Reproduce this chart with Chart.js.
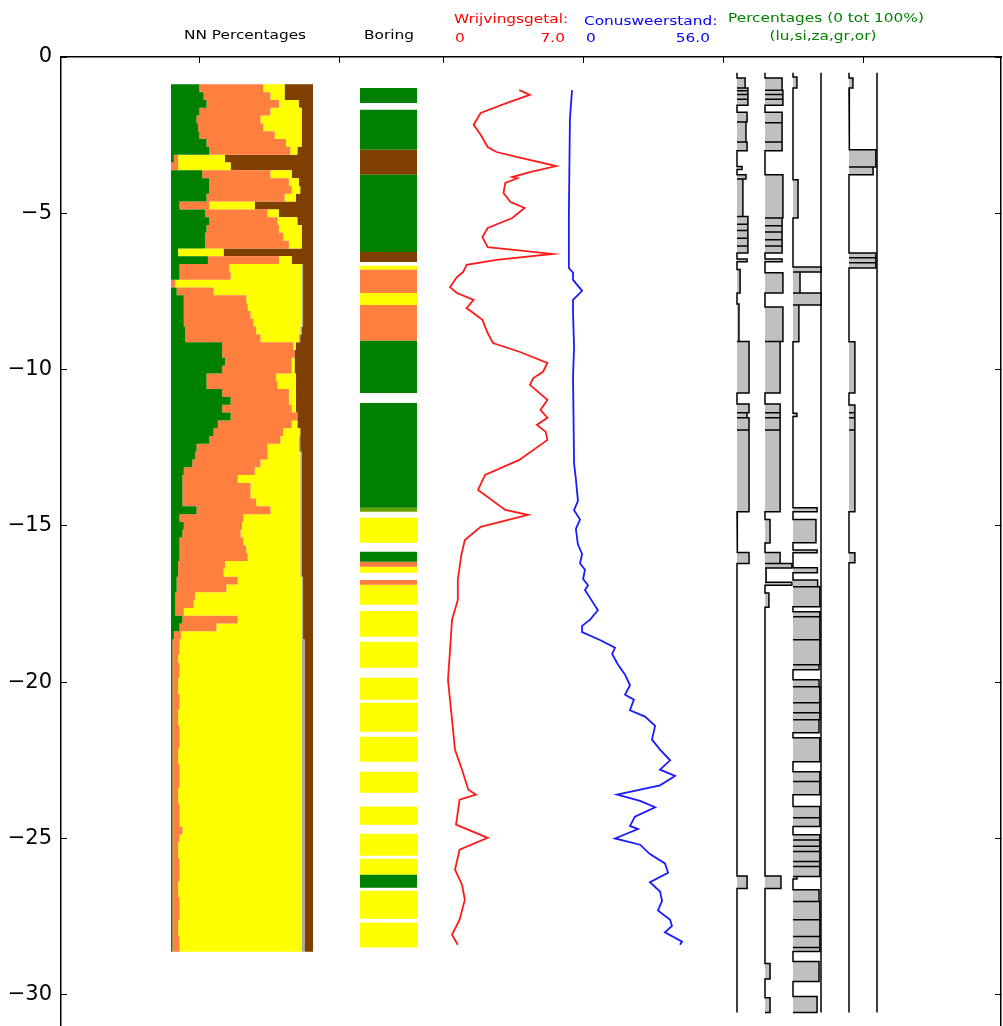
<!DOCTYPE html>
<html>
<head>
<meta charset="utf-8">
<title>Sondering en boring</title>
<script src="https://cdn.jsdelivr.net/npm/chart.js@4/dist/chart.umd.min.js"></script>
<style>
  html, body { margin: 0; padding: 0; background: #fff; }
  #wrap { width: 1003px; height: 1026px; position: relative; }
</style>
</head>
<body>
<div id="wrap"><canvas id="profile"></canvas></div>
<script>
// ---- depth grid of the neural-net classification (m, negative down)
const nnDepths = [
  -1, -1.25, -1.5, -1.75, -2, -2.25, -2.5, -2.75, -3, -3.25, -3.5, -3.75, -4, -4.25, -4.5, -4.75,
  -5, -5.25, -5.5, -5.75, -6, -6.25, -6.5, -6.75, -7, -7.25, -7.5, -7.75, -8, -8.25, -8.5, -8.75,
  -9, -9.25, -9.5, -9.75, -10, -10.25, -10.5, -10.75, -11, -11.25, -11.5, -11.75, -12, -12.25, -12.5, -12.75,
  -13, -13.25, -13.5, -13.75, -14, -14.25, -14.5, -14.75, -15, -15.25, -15.5, -15.75, -16, -16.25, -16.5, -16.75,
  -17, -17.25, -17.5, -17.75, -18, -18.25, -18.5, -18.75, -19, -19.25, -19.5, -19.75, -20, -20.25, -20.5, -20.75,
  -21, -21.25, -21.5, -21.75, -22, -22.25, -22.5, -22.75, -23, -23.25, -23.5, -23.75, -24, -24.25, -24.5, -24.75,
  -25, -25.25, -25.5, -25.75, -26, -26.25, -26.5, -26.75, -27, -27.25, -27.5, -27.75, -28, -28.25, -28.5
];
const NN_STEP = 0.25;
// NN percentages per class (lutum, silt, zand, grind, organisch)
const nnLu = [
  20, 23, 25, 20, 18, 19, 20, 25, 27, 2, 0, 22, 27, 27, 25, 6,
  24, 27, 25, 24, 24, 5, 26, 6, 6, 0, 4, 9, 9, 9, 9, 10,
  10, 36, 36, 38, 36, 25, 25, 36, 42, 36, 42, 33, 30, 27, 18, 17,
  15, 9, 8, 8, 8, 8, 18, 6, 9, 8, 6, 6, 6, 5, 5, 4,
  4, 3, 3, 3, 8, 6, 2, 1, 1, 1, 1, 1, 1, 1, 1, 1,
  1, 1, 1, 1, 1, 1, 1, 1, 1, 1, 1, 1, 1, 1, 1, 1,
  1, 1, 1, 1, 1, 1, 1, 1, 1, 1, 1, 1, 1, 1, 1
];
const nnSi = [
  45, 47, 51, 50, 45, 46, 53, 56, 57, 3, 5, 48, 56, 58, 55, 21,
  44, 48, 51, 55, 59, 0, 50, 35, 36, 3, 26, 44, 45, 47, 49, 50,
  53, 50, 51, 47, 49, 49, 50, 47, 41, 49, 47, 52, 49, 50, 50, 51,
  48, 50, 39, 48, 48, 52, 52, 45, 41, 41, 45, 47, 48, 33, 32, 43,
  35, 14, 13, 6, 39, 26, 5, 5, 5, 4, 5, 5, 4, 4, 5, 5,
  4, 4, 5, 5, 5, 4, 4, 5, 5, 5, 4, 4, 5, 5, 5, 7,
  5, 4, 4, 5, 5, 5, 4, 4, 5, 5, 5, 4, 4, 5, 5
];
const nnZa = [
  15, 10, 14, 22, 29, 27, 19, 11, 5, 33, 37, 15, 7, 6, 8, 32,
  8, 14, 16, 13, 9, 32, 9, 51, 50, 89, 62, 39, 38, 36, 34, 31,
  27, 2, 0, 2, 2, 14, 13, 5, 5, 3, 0, 4, 12, 13, 22, 23,
  28, 32, 44, 35, 35, 31, 21, 40, 41, 42, 40, 38, 37, 53, 54, 45,
  53, 75, 76, 83, 45, 60, 85, 86, 86, 87, 86, 86, 87, 87, 86, 86,
  87, 87, 86, 86, 86, 87, 87, 86, 86, 86, 87, 87, 86, 86, 86, 84,
  86, 87, 87, 86, 86, 86, 87, 87, 86, 86, 86, 87, 87, 86, 86
];
const nnGr = [
  0, 0, 0, 0, 0, 0, 0, 0, 0, 0, 0, 0, 0, 0, 0, 0,
  0, 0, 0, 0, 0, 0, 0, 1, 1, 1, 1, 1, 1, 1, 1, 1,
  1, 0, 0, 0, 0, 0, 0, 0, 0, 0, 0, 0, 0, 1, 1, 1,
  1, 1, 1, 1, 1, 1, 1, 1, 1, 1, 1, 1, 1, 1, 1, 1,
  1, 1, 1, 1, 1, 1, 1, 2, 2, 2, 2, 2, 2, 2, 2, 2,
  2, 2, 2, 2, 2, 2, 2, 2, 2, 2, 2, 2, 2, 2, 2, 2,
  2, 2, 2, 2, 2, 2, 2, 2, 2, 2, 2, 2, 2, 2, 2
];
const nnOr = [
  20, 20, 10, 8, 8, 8, 8, 8, 11, 62, 58, 15, 10, 9, 12, 41,
  24, 11, 8, 8, 8, 63, 15, 7, 7, 7, 7, 7, 7, 7, 7, 8,
  9, 12, 13, 13, 13, 12, 12, 12, 12, 12, 11, 11, 9, 9, 9, 8,
  8, 8, 8, 8, 8, 8, 8, 8, 8, 8, 8, 8, 8, 8, 8, 7,
  7, 7, 7, 7, 7, 7, 7, 6, 6, 6, 6, 6, 6, 6, 6, 6,
  6, 6, 6, 6, 6, 6, 6, 6, 6, 6, 6, 6, 6, 6, 6, 6,
  6, 6, 6, 6, 6, 6, 6, 6, 6, 6, 6, 6, 6, 6, 6
];

// ---- boring description: layer top, layer bottom, soil code
const boringTop = [-0.99, -1.69, -2.97, -3.77, -6.24, -6.68, -6.81, -7.55, -7.93, -9.08, -11.07, -14.42, -14.74, -15.83, -16.15,
  -16.31, -16.73, -16.88, -17.72, -18.71, -19.86, -20.66, -21.75, -22.87, -23.98, -24.85, -25.65, -26.16, -26.67, -27.69];
const boringBottom = [-1.47, -2.97, -3.77, -6.24, -6.56, -6.81, -7.55, -7.93, -9.08, -10.75, -14.42, -14.55, -15.54, -16.15, -16.31,
  -16.5, -16.88, -17.52, -18.55, -19.54, -20.56, -21.59, -22.55, -23.54, -24.56, -25.55, -26.16, -26.58, -27.57, -28.49];
const boringSoil = ['lu', 'lu', 'or', 'lu', 'or', 'za', 'si', 'za', 'si', 'lu', 'lu', 'lz', 'za', 'lu', 'si',
  'za', 'si', 'za', 'za', 'za', 'za', 'za', 'za', 'za', 'za', 'za', 'za', 'lu', 'za', 'za'];

// ---- cone penetration test
const wrijvingDepth = [-1.06, -1.21, -1.47, -1.79, -2.17, -2.49, -2.88, -3.04, -3.2, -3.49, -3.68, -3.84, -3.88, -4.03, -4.35,
  -4.64, -4.83, -5.15, -5.47, -5.76, -6.08, -6.3, -6.49, -6.65, -6.88, -7.04, -7.36, -7.55, -7.77, -8.03, -8.41, -8.83,
  -9.15, -9.43, -9.79, -10.07, -10.27, -10.49, -10.97, -11.29, -11.54, -11.77, -11.99, -12.25, -12.89, -13.37, -13.85,
  -14.49, -14.65, -15.03, -15.45, -15.93, -16.73, -17.37, -18.0, -18.96, -19.92, -21.2, -22.16, -22.8, -23.44, -23.6,
  -23.76, -24.56, -24.98, -25.36, -26.0, -26.48, -26.96, -27.6, -28.08, -28.4];
const wrijvingValue = [4.4, 5.0, 3.7, 2.2, 1.8, 2.2, 2.6, 3.1, 4.3, 6.5, 5.0, 4.0, 4.3, 3.6, 3.5,
  3.9, 4.7, 4.0, 2.6, 2.3, 2.6, 6.3, 3.1, 1.4, 1.2, 0.85, 0.46, 0.85, 1.8, 1.4, 2.3, 2.6,
  2.9, 4.4, 6.0, 5.75, 5.2, 5.0, 6.0, 5.6, 6.0, 5.4, 5.9, 6.0, 4.4, 2.45, 2.05,
  3.6, 4.9, 2.2, 1.3, 1.1, 0.9, 0.9, 0.57, 0.46, 0.34, 0.57, 0.74, 1.14, 1.5, 1.93,
  1.0, 0.8, 2.6, 1.0, 0.74, 1.14, 1.3, 1.0, 0.57, 0.9];

const conusDepth = [-1.06, -2.0, -5.0, -6.75, -6.9, -7.13, -7.48, -7.77, -8.2, -9.27, -10.23, -13.0, -13.5, -14.2, -14.5,
  -14.8, -15.1, -15.6, -15.9, -16.2, -16.4, -16.7, -16.9, -17.05, -17.4, -17.7, -18.0, -18.2, -18.4, -18.65, -18.9,
  -19.1, -19.44, -19.76, -20.1, -20.4, -20.56, -20.9, -21.1, -21.4, -21.84, -22.16, -22.5, -22.8, -23.0, -23.3, -23.6,
  -23.8, -24.0, -24.3, -24.6, -24.7, -25.0, -25.2, -25.5, -25.8, -26.1, -26.4, -26.7, -27.0, -27.3, -27.6, -27.8,
  -28.0, -28.3, -28.4];
const conusValue = [2.7, 1.9, 1.5, 1.5, 3.1, 3.1, 6.6, 3.1, 3.1, 3.5, 3.1, 3.5, 4.2, 5.0, 3.5,
  5.8, 4.2, 5.0, 6.6, 5.8, 7.7, 7.0, 8.9, 7.7, 10.4, 12.7, 9.7, 6.6, 6.6, 13.5, 19.3,
  18.2, 20.5, 23.2, 25.1, 23.2, 26.6, 25.1, 30.9, 34.8, 33.6, 36.7, 40.6, 36.7, 42.5, 36.7, 20.1,
  29.0, 34.8, 27.0, 25.1, 28.2, 19.3, 29.0, 32.8, 38.6, 39.8, 32.8, 36.7, 37.5, 35.9, 40.6, 41.3,
  38.6, 45.2, 44.4];

// ---- lab percentages per sample interval (top, bottom, %)
const luTop = [-0.67, -0.99, -1.08, -1.2, -1.35, -1.77, -2.08, -2.72, -3.5, -3.77, -3.9, -5.1, -5.35, -5.55, -5.8, -6.05,
  -6.46, -6.8, -7.9, -9.1, -11.1, -11.38, -11.54, -11.93, -14.8, -15.85, -26.2];
const luBottom = [-0.99, -1.08, -1.2, -1.35, -1.54, -2.08, -2.72, -3.0, -3.6, -3.9, -5.1, -5.35, -5.55, -5.8, -6.05, -6.27,
  -6.55, -7.55, -9.1, -10.75, -11.38, -11.54, -11.93, -14.55, -15.55, -16.2, -26.6];
const luPct = [29, 39, 39, 39, 39, 36, 32, 36, 18, 32, 21, 39, 39, 39, 39, 39,
  36, 11, 7, 43, 43, 36, 43, 43, 3, 43, 36];

const siTop = [-0.67, -1.06, -1.2, -1.35, -1.77, -2.1, -2.72, -3.77, -5.15, -5.4, -5.6, -5.85, -6.05, -6.46, -6.9, -8.0,
  -9.1, -11.1, -11.38, -11.54, -11.93, -14.8, -15.85, -16.2, -16.35, -16.8, -17.15, -26.2, -29.0, -30.1];
const siBottom = [-1.06, -1.2, -1.35, -1.54, -2.1, -2.72, -3.0, -5.15, -5.4, -5.6, -5.85, -6.05, -6.27, -6.55, -7.55, -9.1,
  -10.75, -11.38, -11.54, -11.93, -14.55, -15.55, -16.2, -16.35, -16.8, -16.9, -17.6, -26.6, -29.5, -30.57];
const siPct = [61, 64, 64, 64, 61, 61, 61, 64, 61, 61, 61, 61, 61, 61, 64, 64,
  54, 54, 54, 54, 54, 18, 54, 96, 4, 96, 14, 57, 18, 18];

const zaTop = [-0.64, -3.93, -6.72, -6.88, -7.55, -7.93, -11.4, -14.42, -14.8, -15.77, -16.34, -16.73, -16.95, -17.75, -17.91,
  -18.64, -19.44, -19.92, -20.15, -20.66, -20.98, -21.2, -21.78, -22.87, -23.18, -23.98, -24.34, -24.88, -25.05, -25.25,
  -25.42, -25.74, -25.9, -26.22, -26.64, -27.02, -27.6, -28.14, -28.49, -28.94, -30.06];
const zaBottom = [-0.99, -5.15, -6.88, -7.55, -7.93, -9.11, -11.5, -14.55, -15.54, -15.86, -16.5, -16.95, -17.59, -17.91, -18.64,
  -19.44, -19.6, -20.15, -20.66, -20.98, -21.2, -21.62, -22.55, -23.18, -23.6, -24.34, -24.62, -25.05, -25.25, -25.42,
  -25.74, -25.9, -26.22, -26.3, -27.02, -27.6, -28.14, -28.49, -28.62, -29.58, -30.57];
const zaPct = [14, 18, 100, 25, 100, 21, 14, 86, 82, 86, 87, 88, 96, 96, 96,
  96, 93, 93, 96, 96, 96, 93, 96, 96, 96, 96, 96, 96, 96, 96,
  96, 96, 96, 14, 93, 96, 96, 96, 96, 93, 86];

const grTop = [];
const grBottom = [];
const grPct = [];

const orTop = [-0.67, -1.7, -2.97, -3.52, -6.27, -6.42, -6.58, -9.11, -11.13, -11.38, -11.54, -11.93, -15.86];
const orBottom = [-0.99, -2.97, -3.52, -3.77, -6.42, -6.58, -6.75, -10.75, -11.38, -11.54, -11.93, -14.55, -16.18];
const orPct = [14, 3, 96, 86, 96, 96, 96, 21, 21, 21, 21, 21, 21];

// ---- layout of the figure (canvas pixels)
const CANVAS_W = 1003;
const PLOT_LEFT = 61;
const PLOT_RIGHT = 1001;
const PLOT_TOP = 57;
const DEPTH_MIN = -31;
const PCT_TOP = -0.5;
const PCT_BOTTOM = -30.57;
const TOP_TICKS = [199, 339, 443, 583, 723, 863];

const SOIL_COLORS = {
  lu: '#008000',
  si: '#ff7f3f',
  za: '#ffff00',
  gr: '#a9a9a9',
  or: '#7f3f00',
  lz: '#6aa300',
};

// hidden x scale that puts value v0 at pixel px0 and v1 at px1
function panelScale(v0, v1, px0, px1) {
  const k = (v1 - v0) / (px1 - px0);
  return {
    type: 'linear',
    display: false,
    offset: false,
    min: v0 - (px0 - PLOT_LEFT) * k,
    max: v1 + (PLOT_RIGHT - px1) * k,
  };
}

function depthLabel(v) {
  return v === 0 ? '0' : '\u2212' + Math.abs(v);
}

// stacked NN classes: each class is a stepped band, right edge down and left edge back up
function nnDatasets() {
  const classes = [['lu', nnLu], ['si', nnSi], ['za', nnZa], ['gr', nnGr], ['or', nnOr]];
  const running = nnDepths.map(() => 0);
  const half = NN_STEP / 2;
  return classes.map(([code, values]) => {
    const from = running.slice();
    nnDepths.forEach((d, i) => { running[i] += values[i]; });
    const right = [];
    const left = [];
    nnDepths.forEach((d, i) => {
      right.push({ x: running[i], y: d + half }, { x: running[i], y: d - half });
      left.unshift({ x: from[i], y: d - half }, { x: from[i], y: d + half });
    });
    // left was built in reverse row order; keep bottom-then-top within each row
    const back = [];
    for (let i = 0; i < left.length; i += 2) back.push(left[i], left[i + 1]);
    return {
      type: 'line',
      label: 'NN ' + code,
      xAxisID: 'xNN',
      yAxisID: 'y',
      data: right.concat(back),
      fill: 'shape',
      backgroundColor: SOIL_COLORS[code],
      borderWidth: 0,
      pointRadius: 0,
    };
  });
}

// boring layers of one soil code as one filled outline
function boringDataset(code) {
  const pts = [];
  boringSoil.forEach((soil, i) => {
    if (soil !== code) return;
    pts.push(
      { x: 0, y: boringTop[i] }, { x: 1, y: boringTop[i] },
      { x: 1, y: boringBottom[i] }, { x: 0, y: boringBottom[i] }
    );
  });
  return {
    type: 'line',
    label: 'Boring ' + code,
    xAxisID: 'xBor',
    yAxisID: 'y',
    data: pts,
    fill: 'shape',
    backgroundColor: SOIL_COLORS[code],
    borderWidth: 0,
    pointRadius: 0,
  };
}

// one percentage column: baseline with a box per sample interval
function pctDataset(label, column, tops, bottoms, pcts) {
  const base = column * 100;
  const pts = [{ x: base, y: PCT_TOP }];
  tops.forEach((t, i) => {
    pts.push(
      { x: base, y: t }, { x: base + pcts[i], y: t },
      { x: base + pcts[i], y: bottoms[i] }, { x: base, y: bottoms[i] }
    );
  });
  pts.push({ x: base, y: PCT_BOTTOM });
  return {
    type: 'line',
    label,
    xAxisID: 'xPct',
    yAxisID: 'y',
    data: pts,
    fill: 'shape',
    backgroundColor: '#c0c0c0',
    borderColor: '#000000',
    borderWidth: 1.5,
    pointRadius: 0,
  };
}

function profileDataset(label, depths, values, axis, color) {
  return {
    type: 'line',
    label,
    xAxisID: axis,
    yAxisID: 'y',
    data: depths.map((d, i) => ({ x: values[i], y: d })),
    borderColor: color,
    borderWidth: 1.8,
    pointRadius: 0,
    fill: false,
  };
}

const HEADER_TEXT = [
  { text: 'NN Percentages', x: 245, y: 39, align: 'center', color: '#000000' },
  { text: 'Boring', x: 389, y: 39, align: 'center', color: '#000000' },
  { text: 'Wrijvingsgetal:', x: 454, y: 23, align: 'left', color: '#ff0000' },
  { text: '0', x: 455, y: 42, align: 'left', color: '#ff0000' },
  { text: '7.0', x: 565, y: 42, align: 'right', color: '#ff0000' },
  { text: 'Conusweerstand:', x: 584, y: 25, align: 'left', color: '#0000ff' },
  { text: '0', x: 586, y: 42, align: 'left', color: '#0000ff' },
  { text: '56.0', x: 710, y: 42, align: 'right', color: '#0000ff' },
  { text: 'Percentages (0 tot 100%)', x: 728, y: 22, align: 'left', color: '#008000' },
  { text: '(lu,si,za,gr,or)', x: 823, y: 40, align: 'center', color: '#008000' },
];

const headerLabels = {
  id: 'headerLabels',
  afterDraw(chart) {
    const ctx = chart.ctx;
    ctx.save();
    ctx.font = '13px "DejaVu Sans"';
    ctx.textBaseline = 'alphabetic';
    for (const t of HEADER_TEXT) {
      ctx.save();
      ctx.translate(t.x, t.y);
      ctx.scale(1.18, 1);
      ctx.fillStyle = t.color;
      ctx.textAlign = t.align;
      ctx.fillText(t.text, 0, 0);
      ctx.restore();
    }
    ctx.restore();
  },
};

const frameGrid = { drawOnChartArea: false, tickLength: -6, color: '#000000', lineWidth: 1 };
const frameBorder = { display: true, color: '#000000', width: 1.5 };

// keep the plot area flush with the canvas bottom
function noEdgePadding(scale) {
  scale.paddingTop = 0;
  scale.paddingBottom = 0;
}

Chart.defaults.font.family = '"DejaVu Sans", sans-serif';
Chart.defaults.color = '#000000';

new Chart(document.getElementById('profile'), {
  type: 'line',
  data: {
    datasets: [
      ...nnDatasets(),
      boringDataset('lu'),
      boringDataset('si'),
      boringDataset('za'),
      boringDataset('or'),
      boringDataset('lz'),
      profileDataset('Wrijvingsgetal', wrijvingDepth, wrijvingValue, 'xRed', '#ff1a1a'),
      profileDataset('Conusweerstand', conusDepth, conusValue, 'xBlue', '#1a1aff'),
      pctDataset('lu', 0, luTop, luBottom, luPct),
      pctDataset('si', 1, siTop, siBottom, siPct),
      pctDataset('za', 2, zaTop, zaBottom, zaPct),
      pctDataset('gr', 3, grTop, grBottom, grPct),
      pctDataset('or', 4, orTop, orBottom, orPct),
      pctDataset('rand', 5, [], [], []),
    ],
  },
  options: {
    responsive: true,
    maintainAspectRatio: false,
    animation: false,
    events: [],
    layout: { padding: 0, autoPadding: false },
    plugins: {
      legend: { display: false },
      tooltip: { enabled: false },
    },
    scales: {
      y: {
        type: 'linear',
        position: 'left',
        min: DEPTH_MIN,
        max: 0,
        offset: false,
        ticks: { stepSize: 5, includeBounds: false, padding: 15, font: { size: 21 }, color: '#000000', callback: depthLabel },
        grid: frameGrid,
        border: frameBorder,
        afterFit: (scale) => { scale.width = PLOT_LEFT; noEdgePadding(scale); },
      },
      yRight: {
        type: 'linear',
        position: 'right',
        min: DEPTH_MIN,
        max: 0,
        offset: false,
        ticks: { stepSize: 5, includeBounds: false, display: false },
        grid: frameGrid,
        border: frameBorder,
        afterFit: (scale) => { scale.width = CANVAS_W - PLOT_RIGHT; noEdgePadding(scale); },
      },
      xTop: {
        type: 'linear',
        position: 'top',
        min: PLOT_LEFT,
        max: PLOT_RIGHT,
        offset: false,
        afterBuildTicks: (scale) => { scale.ticks = TOP_TICKS.map((v) => ({ value: v })); },
        ticks: { display: false },
        grid: frameGrid,
        border: frameBorder,
        afterFit: (scale) => { scale.height = PLOT_TOP; scale.paddingLeft = 0; scale.paddingRight = 0; },
      },
      xNN: panelScale(0, 100, 171, 313),
      xBor: panelScale(0, 1, 360, 417),
      xRed: panelScale(0, 7, 442, 565),
      xBlue: panelScale(0, 56, 565, 710),
      xPct: panelScale(0, 500, 737, 877),
    },
  },
  plugins: [headerLabels],
});
</script>
</body>
</html>
